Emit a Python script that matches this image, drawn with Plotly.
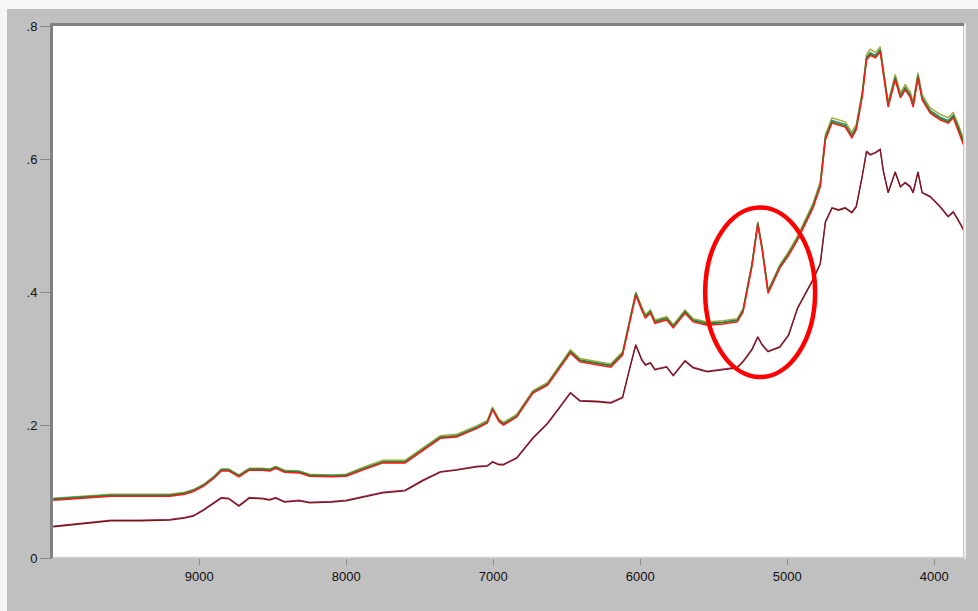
import plotly.graph_objects as go

# Wavenumber grid (cm-1), descending
wavenumber = [9993, 9800, 9600, 9400, 9200, 9100, 9040, 8970, 8900, 8850,
              8800, 8730, 8660, 8570, 8520, 8480, 8420, 8320, 8250, 8100,
              8000, 7880, 7750, 7600, 7480, 7360, 7250, 7110, 7040, 7005,
              6960, 6930, 6840, 6730, 6630, 6545, 6475, 6410, 6290, 6200,
              6120, 6070, 6030, 5990, 5965, 5930, 5900, 5820, 5775, 5695,
              5640, 5545, 5435, 5340, 5300, 5240, 5200, 5170, 5130, 5050,
              4990, 4930, 4825, 4775, 4740, 4695, 4650, 4605, 4560, 4530,
              4490, 4460, 4435, 4400, 4367, 4347, 4313, 4265, 4230, 4197,
              4163, 4143, 4110, 4082, 4027, 3960, 3905, 3870, 3837, 3800]

# Upper group of spectra
spec_olive = [0.090, 0.093, 0.096, 0.096, 0.096, 0.099, 0.103, 0.111, 0.123, 0.134,
              0.134, 0.125, 0.135, 0.135, 0.134, 0.138, 0.132, 0.131, 0.126, 0.125,
              0.126, 0.137, 0.147, 0.147, 0.165, 0.184, 0.186, 0.199, 0.207, 0.227,
              0.209, 0.204, 0.216, 0.252, 0.264, 0.291, 0.313, 0.300, 0.295, 0.292,
              0.310, 0.363, 0.400, 0.378, 0.366, 0.373, 0.358, 0.363, 0.351, 0.373,
              0.360, 0.355, 0.357, 0.360, 0.375, 0.443, 0.506, 0.468, 0.403, 0.441,
              0.461, 0.484, 0.533, 0.566, 0.637, 0.662, 0.659, 0.656, 0.640, 0.652,
              0.701, 0.757, 0.765, 0.760, 0.769, 0.737, 0.686, 0.727, 0.700, 0.712,
              0.701, 0.686, 0.730, 0.697, 0.677, 0.667, 0.662, 0.670, 0.653, 0.630]

spec_teal = [0.089, 0.092, 0.095, 0.095, 0.095, 0.098, 0.102, 0.110, 0.122, 0.133,
             0.133, 0.124, 0.134, 0.134, 0.133, 0.137, 0.131, 0.130, 0.125, 0.124,
             0.125, 0.135, 0.145, 0.145, 0.163, 0.182, 0.184, 0.197, 0.205, 0.225,
             0.207, 0.202, 0.214, 0.250, 0.262, 0.289, 0.311, 0.298, 0.293, 0.290,
             0.308, 0.361, 0.398, 0.376, 0.364, 0.371, 0.356, 0.361, 0.349, 0.371,
             0.358, 0.353, 0.355, 0.358, 0.373, 0.441, 0.504, 0.466, 0.401, 0.439,
             0.458, 0.481, 0.530, 0.562, 0.633, 0.658, 0.655, 0.652, 0.636, 0.648,
             0.697, 0.753, 0.760, 0.756, 0.765, 0.733, 0.682, 0.723, 0.696, 0.708,
             0.697, 0.682, 0.726, 0.693, 0.673, 0.663, 0.658, 0.666, 0.649, 0.626]

spec_green = [0.088, 0.091, 0.094, 0.094, 0.094, 0.097, 0.101, 0.109, 0.121, 0.132,
              0.132, 0.123, 0.133, 0.133, 0.132, 0.136, 0.130, 0.129, 0.124, 0.123,
              0.124, 0.134, 0.144, 0.144, 0.162, 0.181, 0.183, 0.196, 0.204, 0.224,
              0.206, 0.201, 0.213, 0.249, 0.261, 0.288, 0.310, 0.297, 0.292, 0.289,
              0.307, 0.360, 0.397, 0.375, 0.363, 0.370, 0.355, 0.360, 0.348, 0.370,
              0.357, 0.352, 0.354, 0.357, 0.372, 0.440, 0.503, 0.465, 0.400, 0.438,
              0.457, 0.480, 0.528, 0.560, 0.631, 0.656, 0.653, 0.650, 0.634, 0.646,
              0.695, 0.751, 0.758, 0.754, 0.763, 0.731, 0.680, 0.721, 0.694, 0.706,
              0.695, 0.680, 0.724, 0.691, 0.671, 0.661, 0.656, 0.664, 0.647, 0.624]

spec_red = [0.087, 0.090, 0.093, 0.093, 0.093, 0.096, 0.100, 0.108, 0.120, 0.131,
            0.131, 0.122, 0.132, 0.132, 0.131, 0.135, 0.129, 0.128, 0.123, 0.122,
            0.123, 0.133, 0.143, 0.143, 0.161, 0.180, 0.182, 0.195, 0.203, 0.223,
            0.205, 0.200, 0.212, 0.248, 0.260, 0.287, 0.308, 0.295, 0.290, 0.287,
            0.305, 0.358, 0.395, 0.373, 0.361, 0.368, 0.353, 0.358, 0.346, 0.368,
            0.355, 0.350, 0.352, 0.355, 0.370, 0.438, 0.501, 0.463, 0.398, 0.436,
            0.455, 0.478, 0.526, 0.558, 0.629, 0.654, 0.651, 0.648, 0.632, 0.644,
            0.693, 0.749, 0.756, 0.752, 0.761, 0.729, 0.678, 0.719, 0.692, 0.704,
            0.693, 0.678, 0.722, 0.689, 0.669, 0.659, 0.654, 0.662, 0.644, 0.621]

# Lower group of spectra
spec_purple = [0.048, 0.052, 0.057, 0.057, 0.058, 0.061, 0.064, 0.073, 0.084, 0.091,
               0.090, 0.079, 0.091, 0.090, 0.088, 0.091, 0.085, 0.087, 0.084, 0.085,
               0.087, 0.093, 0.099, 0.102, 0.117, 0.130, 0.133, 0.138, 0.139, 0.145,
               0.141, 0.141, 0.151, 0.181, 0.203, 0.228, 0.249, 0.237, 0.236, 0.234,
               0.242, 0.287, 0.321, 0.299, 0.291, 0.294, 0.284, 0.288, 0.275, 0.297,
               0.287, 0.281, 0.284, 0.287, 0.296, 0.314, 0.333, 0.321, 0.311, 0.318,
               0.336, 0.376, 0.419, 0.443, 0.506, 0.527, 0.524, 0.527, 0.520, 0.529,
               0.574, 0.612, 0.607, 0.610, 0.615, 0.584, 0.550, 0.581, 0.559, 0.565,
               0.559, 0.550, 0.581, 0.550, 0.544, 0.529, 0.514, 0.521, 0.509, 0.494]

spec_maroon = [0.047, 0.051, 0.056, 0.056, 0.057, 0.060, 0.063, 0.072, 0.083, 0.090,
               0.089, 0.078, 0.090, 0.089, 0.087, 0.090, 0.084, 0.086, 0.083, 0.084,
               0.086, 0.092, 0.098, 0.101, 0.116, 0.129, 0.132, 0.137, 0.138, 0.144,
               0.140, 0.140, 0.150, 0.180, 0.202, 0.227, 0.248, 0.236, 0.235, 0.233,
               0.241, 0.286, 0.320, 0.298, 0.290, 0.293, 0.283, 0.287, 0.274, 0.296,
               0.286, 0.280, 0.283, 0.286, 0.295, 0.313, 0.332, 0.320, 0.310, 0.317,
               0.335, 0.375, 0.418, 0.442, 0.505, 0.526, 0.523, 0.526, 0.519, 0.528,
               0.573, 0.611, 0.606, 0.609, 0.614, 0.583, 0.549, 0.580, 0.558, 0.564,
               0.558, 0.549, 0.580, 0.549, 0.543, 0.528, 0.513, 0.520, 0.508, 0.493]

x_ticks = [9000, 8000, 7000, 6000, 5000, 4000]
x_tick_text = ["9000", "8000", "7000", "6000", "5000", "4000"]
y_ticks = [0, 0.2, 0.4, 0.6, 0.8]
y_tick_text = ["0", ".2", ".4", ".6", ".8"]

series = [
    (spec_purple, "#a04080", 1.3),
    (spec_maroon, "#7d1515", 1.3),
    (spec_olive, "#a8a830", 1.4),
    (spec_teal, "#2a8c8c", 1.4),
    (spec_green, "#1a8a1a", 1.4),
    (spec_red, "#ff1a1a", 1.5),
]

fig = go.Figure()
for values, color, width in series:
    fig.add_trace(go.Scatter(
        x=wavenumber, y=values, mode="lines",
        line=dict(color=color, width=width),
        showlegend=False, hoverinfo="skip",
    ))

# Plot area occupies pixels x 53..964, y 26..558
PW, PH = 911.0, 532.0
L, T = 53.0, 26.0


def px(xp):
    return (xp - L) / PW


def py(yp):
    return (T + PH - yp) / PH


shapes = [
    # light outer strips
    dict(type="rect", xref="paper", yref="paper", x0=px(0), x1=px(978), y0=py(9), y1=py(0),
         fillcolor="#f6f6f6", line=dict(width=0), layer="above"),
    dict(type="rect", xref="paper", yref="paper", x0=px(0), x1=px(7), y0=py(611), y1=py(0),
         fillcolor="#f6f6f6", line=dict(width=0), layer="above"),
    # sunken frame around the plot area
    dict(type="line", xref="paper", yref="paper", x0=px(51.5), x1=px(51.5), y0=py(558), y1=py(23),
         line=dict(color="#808080", width=3), layer="above"),
    dict(type="line", xref="paper", yref="paper", x0=px(50), x1=px(965), y0=py(24.5), y1=py(24.5),
         line=dict(color="#808080", width=3), layer="above"),
    dict(type="line", xref="paper", yref="paper", x0=px(963.5), x1=px(963.5), y0=py(558), y1=py(26),
         line=dict(color="#c8c8c8", width=1), layer="above"),
    dict(type="line", xref="paper", yref="paper", x0=px(965), x1=px(965), y0=py(559), y1=py(23),
         line=dict(color="#ffffff", width=1.5), layer="above"),
    dict(type="line", xref="paper", yref="paper", x0=px(53), x1=px(965), y0=py(557.5), y1=py(557.5),
         line=dict(color="#d0d0d0", width=1.5), layer="above"),
    # highlight ellipse around the 5200 band
    dict(type="circle", xref="x", yref="y", x0=5558, x1=4810, y0=0.272, y1=0.527,
         line=dict(color="#ff0000", width=4.5), layer="above"),
]

fig.update_layout(
    width=978, height=611,
    margin=dict(l=53, r=14, t=26, b=53),
    paper_bgcolor="#c0c0c0",
    plot_bgcolor="#ffffff",
    font=dict(family="Liberation Sans, Arial, sans-serif", size=13, color="#111111"),
    shapes=shapes,
    xaxis=dict(
        range=[9995, 3797], showgrid=False, zeroline=False, showline=False,
        tickmode="array", tickvals=x_ticks, ticktext=x_tick_text,
        ticks="outside", ticklen=6, tickwidth=1, tickcolor="#8a8a8a",
    ),
    yaxis=dict(
        range=[0, 0.8], showgrid=False, zeroline=False, showline=False,
        tickmode="array", tickvals=y_ticks, ticktext=y_tick_text,
        ticks="outside", ticklen=12, tickwidth=1, tickcolor="#8a8a8a",
    ),
)

fig.write_html("out.html")
